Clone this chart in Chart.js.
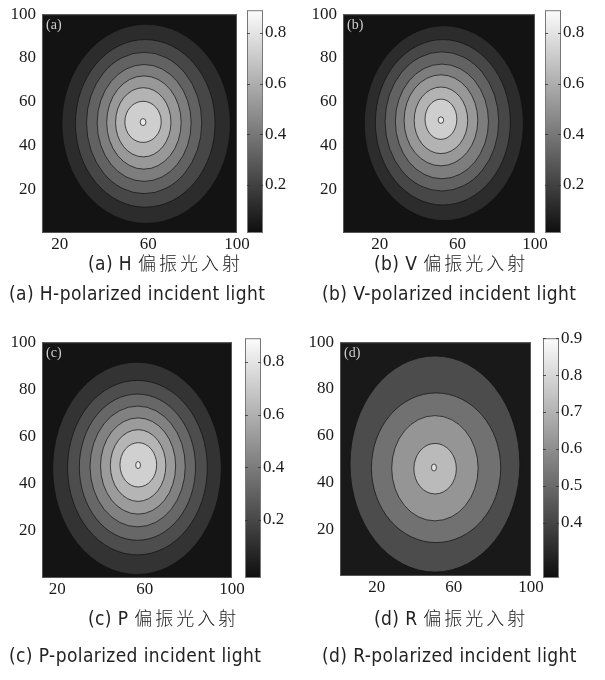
<!DOCTYPE html>
<html>
<head>
<meta charset="utf-8">
<script src="https://cdn.jsdelivr.net/npm/chart.js@4.4.1/dist/chart.umd.min.js"></script>
<style>
  body { margin: 0; background: #fff; width: 605px; height: 680px; position: relative; overflow: hidden; }
  canvas { position: absolute; }
  .cap { position: absolute; white-space: nowrap; color: #222; line-height: 24px;
         font-family: "Liberation Sans Narrow", "DejaVu Sans Condensed", "Liberation Sans", sans-serif;
         font-size: 19px; letter-spacing: 0.4px; }
  .cap .zh { font-family: "Noto Sans CJK SC", sans-serif; font-size: 18px; letter-spacing: 3px; font-weight: 300; }
</style>
</head>
<body>
<canvas id="plotA"></canvas><canvas id="cbarA"></canvas>
<canvas id="plotB"></canvas><canvas id="cbarB"></canvas>
<canvas id="plotC"></canvas><canvas id="cbarC"></canvas>
<canvas id="plotD"></canvas><canvas id="cbarD"></canvas>

<div class="cap" style="left:88px;top:250px">(a) H <span class="zh">偏振光入射</span></div>
<div class="cap" style="left:9px;top:281px">(a) H-polarized incident light</div>
<div class="cap" style="left:374px;top:250px">(b) V <span class="zh">偏振光入射</span></div>
<div class="cap" style="left:322px;top:281px">(b) V-polarized incident light</div>
<div class="cap" style="left:88px;top:605px">(c) P <span class="zh">偏振光入射</span></div>
<div class="cap" style="left:9px;top:643px">(c) P-polarized incident light</div>
<div class="cap" style="left:374px;top:605px">(d) R <span class="zh">偏振光入射</span></div>
<div class="cap" style="left:322px;top:643px">(d) R-polarized incident light</div>

<script>
// axis ticks
const xTicks = [20, 60, 100];
const yTicks = [20, 40, 60, 80, 100];

// (a) H polarized: contour levels and ellipse of each level (axis units)
const levelsA = [0.1, 0.2, 0.3, 0.4, 0.5, 0.6, 0.7, 0.8];
const cxA = [59, 58.6, 58.1, 58.1, 58, 57.7, 57.6, 57.6];
const cyA = [49.9, 50.1, 50.3, 50.3, 50.5, 50.6, 50.8, 50.7];
const rxA = [38, 31.5, 26, 21.2, 16.8, 12.5, 8.2, 1.3];
const ryA = [45.5, 38.3, 32.3, 26.7, 21.3, 15.8, 9.4, 1.6];
const xRangeA = [12, 100];
const cRangeA = [0.01, 0.89];
const cTicksA = [0.2, 0.4, 0.6, 0.8];

// (b) V polarized
const levelsB = [0.1, 0.2, 0.3, 0.4, 0.5, 0.6, 0.7, 0.8];
const cxB = [53, 52.5, 52, 52, 51.5, 51.5, 51.5, 51.5];
const cyB = [50.2, 50.6, 51, 51, 51.5, 51.5, 52, 51.6];
const rxB = [41, 34.8, 29.3, 24, 19, 13.8, 8.2, 1.4];
const ryB = [44.5, 37.8, 31.8, 26.2, 20.8, 15.2, 9.2, 1.5];
const xRangeB = [1, 100];
const cRangeB = [0.01, 0.89];
const cTicksB = [0.2, 0.4, 0.6, 0.8];

// (c) P polarized
const levelsC = [0.1, 0.2, 0.3, 0.4, 0.5, 0.6, 0.7, 0.8];
const cxC = [56.5, 56.7, 56.7, 56.8, 57, 57, 57.1, 57];
const cyC = [46.5, 46.8, 47, 47.3, 47.5, 47.7, 48, 47.9];
const rxC = [38.6, 32, 26.6, 21.8, 17.2, 12.7, 8.4, 1.1];
const ryC = [45, 37, 31, 25.6, 20.4, 15.2, 9.4, 1.5];
const xRangeC = [13, 100];
const cRangeC = [-0.02, 0.89];
const cTicksC = [0.2, 0.4, 0.6, 0.8];

// (d) R polarized
const levelsD = [0.4, 0.5, 0.6, 0.7, 0.8];
const cxD = [50.2, 50.8, 50.2, 50.3, 49.7];
const cyD = [47.9, 46.3, 46.1, 45.9, 46.4];
const rxD = [44, 33.5, 22.4, 11, 1.3];
const ryD = [46.2, 32, 22.5, 10.8, 1.5];
const xRangeD = [1, 100];
const cRangeD = [0.25, 0.9];
const cTicksD = [0.4, 0.5, 0.6, 0.7, 0.8, 0.9];

const serif = '"Liberation Serif", "Times New Roman", serif';
Chart.defaults.font.family = serif;
Chart.defaults.font.size = 17;
Chart.defaults.color = '#1a1a1a';

function gray(v, range) {
    let t = (v - range[0]) / (range[1] - range[0]);
    t = Math.max(0, Math.min(1, t));
    const g = Math.round(14 + t * 238);
    return 'rgb(' + g + ',' + g + ',' + g + ')';
}

const contourPlugin = {
    id: 'contour',
    beforeDatasetsDraw(chart, args, p) {
        const { ctx, chartArea: a, scales: { x, y } } = chart;
        ctx.save();
        ctx.beginPath();
        ctx.rect(a.left, a.top, a.right - a.left, a.bottom - a.top);
        ctx.clip();
        ctx.fillStyle = gray(p.range[0] + 0.2 * (p.levels[0] - p.range[0]), p.range);
        ctx.fillRect(a.left, a.top, a.right - a.left, a.bottom - a.top);
        p.levels.forEach((lv, i) => {
            const next = i + 1 < p.levels.length ? p.levels[i + 1] : p.range[1];
            const px = x.getPixelForValue(p.cx[i]);
            const py = y.getPixelForValue(p.cy[i]);
            const rpx = Math.abs(x.getPixelForValue(p.cx[i] + p.rx[i]) - px);
            const rpy = Math.abs(y.getPixelForValue(p.cy[i] + p.ry[i]) - py);
            ctx.beginPath();
            ctx.ellipse(px, py, rpx, rpy, 0, 0, Math.PI * 2);
            ctx.fillStyle = gray(lv + 0.2 * (next - lv), p.range);
            ctx.fill();
            ctx.lineWidth = 1;
            ctx.strokeStyle = 'rgba(15,15,15,0.7)';
            ctx.stroke();
        });
        ctx.restore();
        ctx.save();
        ctx.strokeStyle = '#555';
        ctx.lineWidth = 1;
        ctx.strokeRect(a.left + 0.5, a.top + 0.5, a.right - a.left - 1, a.bottom - a.top - 1);
        ctx.fillStyle = '#cfcfcf';
        ctx.font = '14px ' + serif;
        ctx.textBaseline = 'top';
        ctx.fillText(p.tag, a.left + 4, a.top + 4);
        ctx.restore();
    }
};

const cbarPlugin = {
    id: 'cbar',
    beforeDatasetsDraw(chart, args, p) {
        const { ctx, chartArea: a, scales: { y } } = chart;
        ctx.save();
        const grad = ctx.createLinearGradient(0, a.bottom, 0, a.top);
        grad.addColorStop(0, gray(p.range[0], p.range));
        grad.addColorStop(1, gray(p.range[1], p.range));
        ctx.fillStyle = grad;
        ctx.fillRect(a.left, a.top, a.right - a.left, a.bottom - a.top);
        ctx.strokeStyle = '#777';
        ctx.lineWidth = 1;
        ctx.strokeRect(a.left + 0.5, a.top + 0.5, a.right - a.left - 1, a.bottom - a.top - 1);
        ctx.strokeStyle = 'rgba(50,50,50,0.8)';
        p.ticks.forEach(v => {
            const py = Math.round(y.getPixelForValue(v)) + 0.5;
            ctx.beginPath();
            ctx.moveTo(a.left, py); ctx.lineTo(a.left + 3, py);
            ctx.moveTo(a.right - 3, py); ctx.lineTo(a.right, py);
            ctx.stroke();
        });
        ctx.restore();
    }
};

function place(canvas, left, top, w, h) {
    canvas.width = w;
    canvas.height = h;
    canvas.style.left = left + 'px';
    canvas.style.top = top + 'px';
    canvas.style.width = w + 'px';
    canvas.style.height = h + 'px';
}

const tickFont = { family: serif, size: 17 };

function makePanel(id, plot, xRange, bar, levels, cx, cy, rx, ry, range, cTicks, tag) {
    const padL = 45, padT = 12, padR = 18, axisH = 30;
    const pc = document.getElementById('plot' + id);
    place(pc, plot[0] - padL, plot[1] - padT, plot[2] - plot[0] + padL + padR, plot[3] - plot[1] + padT + axisH);
    new Chart(pc.getContext('2d'), {
        type: 'scatter',
        data: { datasets: [] },
        options: {
            responsive: false,
            animation: false,
            events: [],
            layout: { padding: { top: padT, right: padR, left: 0, bottom: 0 } },
            plugins: {
                legend: { display: false },
                tooltip: { enabled: false },
                contour: { levels, cx, cy, rx, ry, range, tag }
            },
            scales: {
                x: {
                    type: 'linear', min: xRange[0], max: xRange[1],
                    afterBuildTicks: s => { s.ticks = xTicks.map(v => ({ value: v })); },
                    afterFit: s => { s.height = axisH; },
                    grid: { display: false, drawTicks: false },
                    border: { display: false },
                    ticks: { padding: 1, color: '#1a1a1a', font: tickFont }
                },
                y: {
                    type: 'linear', min: 0, max: 100,
                    afterBuildTicks: s => { s.ticks = yTicks.map(v => ({ value: v })); },
                    afterFit: s => { s.width = padL; },
                    grid: { display: false, drawTicks: false },
                    border: { display: false },
                    ticks: { padding: 6, color: '#1a1a1a', font: tickFont }
                }
            }
        },
        plugins: [contourPlugin]
    });

    const bc = document.getElementById('cbar' + id);
    place(bc, bar[0] - 12, bar[1] - 12, bar[2] - bar[0] + 12 + 40, bar[3] - bar[1] + 12 + 14);
    new Chart(bc.getContext('2d'), {
        type: 'scatter',
        data: { datasets: [] },
        options: {
            responsive: false,
            animation: false,
            events: [],
            layout: { padding: { top: 12, right: 0, left: 12, bottom: 14 } },
            plugins: {
                legend: { display: false },
                tooltip: { enabled: false },
                cbar: { range, ticks: cTicks }
            },
            scales: {
                x: { type: 'linear', display: false },
                y: {
                    type: 'linear', position: 'right', min: range[0], max: range[1],
                    afterBuildTicks: s => { s.ticks = cTicks.map(v => ({ value: v })); },
                    afterFit: s => { s.width = 40; },
                    grid: { display: false, drawTicks: false },
                    border: { display: false },
                    ticks: {
                        padding: 2, color: '#1a1a1a', font: tickFont,
                        callback: v => v.toFixed(1)
                    }
                }
            }
        },
        plugins: [cbarPlugin]
    });
}

makePanel('A', [42, 10, 237, 233], xRangeA, [247, 10, 263, 233], levelsA, cxA, cyA, rxA, ryA, cRangeA, cTicksA, '(a)');
makePanel('B', [343, 10, 535, 233], xRangeB, [545, 10, 561, 233], levelsB, cxB, cyB, rxB, ryB, cRangeB, cTicksB, '(b)');
makePanel('C', [42, 338, 232, 578], xRangeC, [245, 338, 261, 578], levelsC, cxC, cyC, rxC, ryC, cRangeC, cTicksC, '(c)');
makePanel('D', [340, 338, 531, 576], xRangeD, [543, 338, 559, 578], levelsD, cxD, cyD, rxD, ryD, cRangeD, cTicksD, '(d)');
</script>
</body>
</html>
